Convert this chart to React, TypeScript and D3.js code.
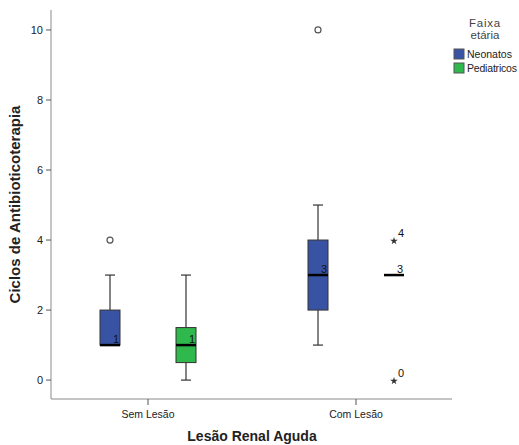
import React from 'react'
import * as d3 from 'd3'

const categories = ['Sem Lesão', 'Com Lesão']
const groups = ['Neonatos', 'Pediatricos']
const groupColors = ['#3953a4', '#2fb84b']

// per box: [category, group, lowWhisker, q1, median, q3, highWhisker]
const boxCategory = [0, 0, 1, 1]
const boxGroup = [0, 1, 0, 1]
const whiskerLow = [1, 0, 1, 3]
const q1s = [1, 0.5, 2, 3]
const medians = [1, 1, 3, 3]
const q3s = [2, 1.5, 4, 3]
const whiskerHigh = [3, 3, 5, 3]
const boxLabels = ['1', '1', '3', '3']

// outliers: circles and extremes (stars)
const outBox = [0, 2]
const outValue = [4, 10]
const extBox = [3, 3]
const extValue = [4, 0]
const extLabels = ['4', '0']

const yTicks = [0, 2, 4, 6, 8, 10]

export default function App() {
  const width = 519
  const height = 445
  const left = 51
  const right = 452
  const top = 10
  const bottom = 399

  const y = d3.scaleLinear().domain([-0.54, 10.57]).range([bottom, top])
  const x = d3.scalePoint().domain(categories).range([left + 97, right - 96])
  const xg = d3.scaleBand().domain(groups).range([-76, 76]).padding(0)
  const cx = (i: number) => x(categories[boxCategory[i]])! + xg(groups[boxGroup[i]])! + xg.bandwidth() / 2
  const bw = 20
  const font = 'Liberation Sans, Arial, sans-serif'
  const star = d3.symbol().type(d3.symbolStar).size(18)()

  return (
    <svg width={width} height={height} style={{ position: 'absolute', left: 0, top: 0 }} fontFamily={font}>
      <rect width={width} height={height} fill="#fff" />
      {/* axes */}
      <line x1={left} x2={left} y1={top} y2={bottom} stroke="#8a8a8a" />
      <line x1={left} x2={right} y1={bottom} y2={bottom} stroke="#8a8a8a" />
      {yTicks.map(t => (
        <g key={t}>
          <line x1={left - 5} x2={left} y1={y(t)} y2={y(t)} stroke="#555" />
          <text x={left - 8} y={y(t) + 4} textAnchor="end" fontSize={11} fill="#222">{t}</text>
        </g>
      ))}
      {categories.map(c => {
        const px = x(c)!
        return (
          <g key={c}>
            <line x1={px} x2={px} y1={bottom} y2={bottom + 6} stroke="#555" />
            <text x={px} y={418} textAnchor="middle" fontSize={10.5} fill="#222">{c}</text>
          </g>
        )
      })}
      <text x={252} y={441} textAnchor="middle" fontSize={14} fontWeight="bold" fill="#222">Lesão Renal Aguda</text>
      <text transform={`translate(20,${(top + bottom) / 2}) rotate(-90)`} textAnchor="middle" fontSize={15} fontWeight="bold" fill="#222">Ciclos de Antibioticoterapia</text>

      {/* boxes */}
      {q1s.map((_, i) => {
        const c = cx(i)
        const hasBox = q3s[i] > q1s[i]
        return (
          <g key={i}>
            {whiskerHigh[i] > q3s[i] && (
              <>
                <line x1={c} x2={c} y1={y(q3s[i])} y2={y(whiskerHigh[i])} stroke="#333" strokeWidth={1.2} />
                <line x1={c - 5} x2={c + 5} y1={y(whiskerHigh[i])} y2={y(whiskerHigh[i])} stroke="#333" strokeWidth={1.2} />
              </>
            )}
            {whiskerLow[i] < q1s[i] && (
              <>
                <line x1={c} x2={c} y1={y(q1s[i])} y2={y(whiskerLow[i])} stroke="#333" strokeWidth={1.2} />
                <line x1={c - 5} x2={c + 5} y1={y(whiskerLow[i])} y2={y(whiskerLow[i])} stroke="#333" strokeWidth={1.2} />
              </>
            )}
            {hasBox && (
              <rect x={c - bw / 2} y={y(q3s[i])} width={bw} height={y(q1s[i]) - y(q3s[i])}
                fill={groupColors[boxGroup[i]]} stroke="#333" strokeWidth={1} />
            )}
            <line x1={c - bw / 2} x2={c + bw / 2} y1={y(medians[i])} y2={y(medians[i])} stroke="#000" strokeWidth={2.5} />
            <text x={c + bw / 2 - 1} y={y(medians[i]) - 2} textAnchor="end" fontSize={11} fill="#111">{boxLabels[i]}</text>
          </g>
        )
      })}

      {outBox.map((b, i) => (
        <circle key={i} cx={cx(b)} cy={y(outValue[i])} r={3} fill="none" stroke="#555" strokeWidth={1.2} />
      ))}
      {extBox.map((b, i) => (
        <g key={i}>
          <path d={star!} transform={`translate(${cx(b)},${y(extValue[i]) + 1})`} fill="#333" />
          <text x={cx(b) + 4} y={y(extValue[i]) - 3} fontSize={11} fill="#111">{extLabels[i]}</text>
        </g>
      ))}

      {/* legend */}
      <text x={485} y={27} textAnchor="middle" fontSize={11.5} fill="#444" letterSpacing={0.8}>Faixa</text>
      <text x={485} y={39} textAnchor="middle" fontSize={11.5} fill="#444">etária</text>
      {groups.map((g, i) => (
        <g key={g}>
          <rect x={454} y={49 + i * 14} width={10} height={10} fill={groupColors[i]} stroke="#555" />
          <text x={467} y={58 + i * 14} fontSize={10.5} fill="#222" textLength={g === 'Pediatricos' ? 50 : undefined}>{g}</text>
        </g>
      ))}
    </svg>
  )
}
